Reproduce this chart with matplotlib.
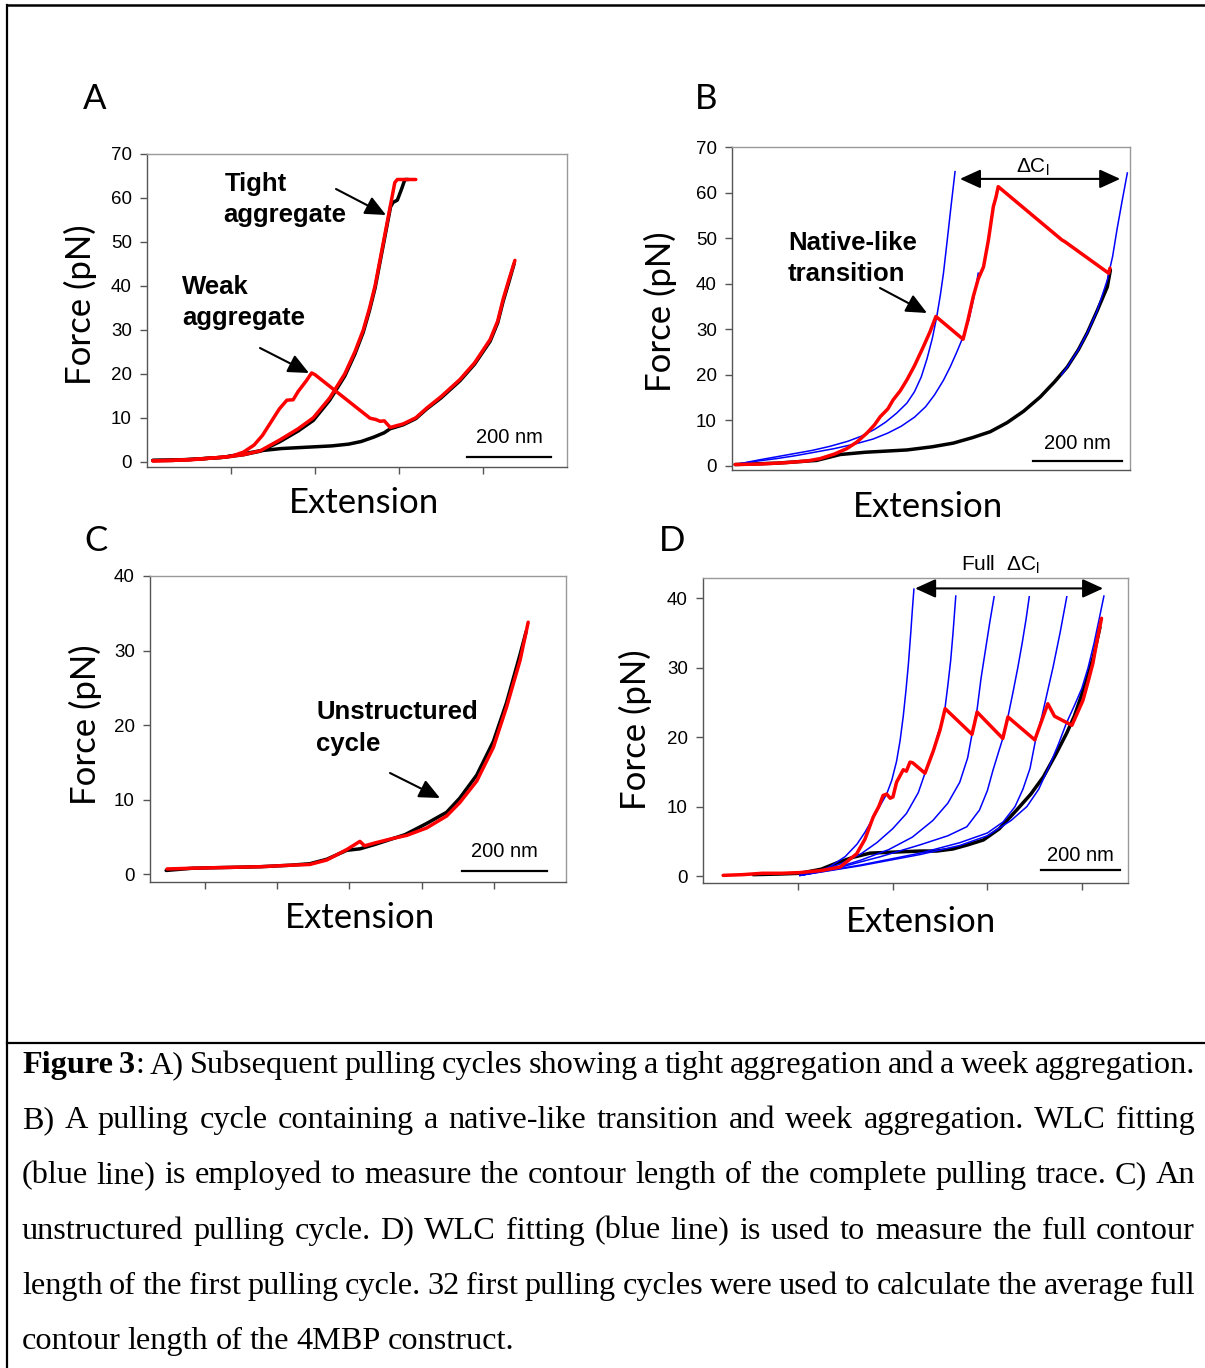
import matplotlib
matplotlib.use('Agg')
import matplotlib.pyplot as plt
from matplotlib.lines import Line2D
from matplotlib.patches import FancyArrowPatch

W, H = 1205, 1368  # output size in pixels

plt.rcParams['font.family'] = ['Liberation Sans', 'DejaVu Sans']
plt.rcParams['mathtext.fontset'] = 'custom'
plt.rcParams['mathtext.rm'] = 'Liberation Sans'
plt.rcParams['mathtext.it'] = 'Liberation Sans:italic'
plt.rcParams['mathtext.bf'] = 'Liberation Sans:bold'

RED, BLACK, BLUE = '#ff0000', '#000000', '#0000ff'

### Data  (extension in nm, force in pN)
## Panel A
a_tight_x = [14, 60, 120, 180, 230, 270, 317, 360, 396, 435, 471, 495, 515, 530, 543,
             553, 563, 573, 583, 590, 596, 640]
a_tight_red = [0.2, 0.3, 0.6, 1.0, 1.6, 2.5, 5.0, 7.5, 10, 14.5, 20, 25, 30, 35, 40,
               45, 50, 55, 60, 63.5, 64.2, 64.2]
a_tight_bk_x = [14, 60, 120, 180, 230, 270, 317, 360, 396, 435, 471, 495, 515, 530, 543,
                553, 563, 573, 580, 586, 596, 606, 614, 622]
a_tight_bk = [0.3, 0.3, 0.6, 1.0, 1.6, 2.4, 4.6, 7.0, 9.4, 14.0, 19.5, 24.5, 29.5, 34.5, 39.5,
              44.5, 49.5, 54.5, 58, 59, 59.5, 62, 64.2, 64.2]
a_weak_x = [14, 100, 200, 230, 255, 275, 295, 315, 333, 348, 360, 380, 392, 400, 531, 545,
            555, 565, 579, 610, 640, 666, 700, 745, 780, 817, 835, 848, 862, 876]
a_weak_red = [0.2, 0.4, 1.2, 2.2, 3.8, 6.0, 9.0, 12.0, 14.0, 14.1, 16.0, 18.5, 20.2, 19.8, 9.9, 9.6,
              9.2, 9.3, 7.8, 8.6, 10.0, 12.2, 14.8, 18.7, 22.5, 27.8, 32.0, 37.0, 41.5, 45.8]
a_weak_bk_x = [14, 100, 180, 230, 270, 320, 380, 440, 480, 510, 540, 565, 579, 610, 640,
               666, 700, 745, 780, 817, 835, 848, 862, 874]
a_weak_bk = [0.3, 0.5, 1.0, 1.8, 2.5, 3.0, 3.3, 3.6, 4.0, 4.6, 5.6, 6.6, 7.5, 8.4, 9.8,
             12.0, 14.5, 18.4, 22.2, 27.4, 31.6, 36.5, 41.0, 45.0]

## Panel B
b_red_x = [7, 60, 120, 170, 198, 230, 258, 280, 303, 320, 333, 350, 362, 378, 393, 410, 430,
           445, 458, 519, 530, 542, 553, 565, 576, 587, 593, 598, 741, 748, 846, 849]
b_red = [0.3, 0.4, 0.7, 1.1, 1.6, 2.6, 3.8, 5.2, 7.2, 9.0, 10.8, 12.5, 14.5, 16.5, 18.9, 22.0, 26.2,
         29.5, 32.8, 27.8, 32.0, 37.2, 41.0, 43.7, 49.6, 56.9, 59.0, 61.3, 49.6, 49.2, 42.3, 43.4]
b_black_x = [7, 100, 190, 243, 300, 393, 450, 497, 540, 580, 618, 655, 692, 725, 753, 778,
             798, 820, 843, 850]
b_black = [0.3, 0.6, 1.2, 2.5, 3.0, 3.5, 4.2, 5.0, 6.2, 7.5, 9.5, 12.0, 15.1, 18.5, 21.7, 25.5,
           29.2, 34.0, 39.3, 43.0]
b_fit1_x = [18, 60, 100, 140, 180, 220, 260, 290, 320, 345, 370, 393, 410, 425, 438, 450, 460,
            468, 475, 484, 492, 501]
b_fit1 = [0.5, 1.3, 2.0, 2.7, 3.4, 4.3, 5.4, 6.5, 8.0, 9.6, 11.6, 13.8, 16.3, 19.5, 23.5, 28.0, 32.8,
          37.5, 42.3, 50.0, 57.0, 64.6]
b_fit2_x = [18, 60, 100, 140, 180, 230, 280, 317, 350, 380, 410, 435, 455, 475, 490, 505, 519,
            532, 542, 548, 553]
b_fit2 = [0.5, 1.1, 1.6, 2.2, 2.9, 3.8, 4.9, 5.9, 7.2, 8.7, 10.7, 13.0, 15.6, 18.8, 21.7, 25.0, 28.3,
          32.0, 36.4, 39.3, 42.3]
b_fit3_x = [740, 753, 778, 798, 820, 843, 855, 865, 876, 888]
b_fit3 = [20.0, 21.7, 25.5, 29.2, 34.0, 40.8, 46.0, 52.0, 58.0, 64.3]

## Panel C
c_red_x = [40, 100, 180, 260, 330, 376, 416, 463, 494, 505, 530, 572, 604, 651, 698, 729, 769,
           808, 839, 871, 890]
c_red = [0.7, 0.8, 0.9, 1.0, 1.2, 1.3, 1.9, 3.3, 4.4, 3.8, 4.2, 4.8, 5.2, 6.2, 7.8, 9.6, 12.5,
         17.0, 22.4, 28.7, 33.8]
c_black_x = [38, 100, 180, 260, 330, 376, 416, 463, 494, 530, 600, 651, 698, 729, 769, 808,
             839, 871, 885]
c_black = [0.5, 0.8, 0.9, 1.0, 1.2, 1.4, 2.0, 3.2, 3.4, 4.0, 5.3, 6.8, 8.3, 10.2, 13.3, 17.8,
           23.0, 29.5, 32.5]

## Panel D
d_red_x = [51, 100, 150, 200, 246, 300, 347, 389, 410, 431, 445, 456, 465, 474, 481, 490, 507,
           515, 524, 531, 562, 583, 600, 613, 681, 694, 759, 772, 840, 873, 890, 934, 948, 962,
           975, 987, 998, 1009]
d_red = [0.1, 0.2, 0.4, 0.4, 0.5, 0.8, 1.3, 3.2, 5.3, 8.5, 10.0, 11.6, 11.8, 11.2, 11.4, 13.5,
         15.3, 15.1, 16.4, 16.3, 14.8, 18.0, 21.0, 24.1, 20.4, 23.6, 19.8, 22.9, 19.6, 24.8, 23.0,
         21.7, 23.5, 25.3, 28.0, 30.6, 34.0, 37.1]
d_black_x = [127, 200, 246, 300, 339, 380, 423, 465, 506, 550, 592, 633, 671, 710, 750, 794,
             830, 862, 893, 921, 940, 954, 970, 988, 1005]
d_black = [0.2, 0.3, 0.4, 1.0, 1.9, 2.7, 3.3, 3.4, 3.5, 3.6, 3.6, 3.9, 4.5, 5.2, 6.8, 9.5,
           11.8, 14.3, 17.5, 20.6, 23.0, 25.3, 28.0, 31.5, 35.8]
d_fit_x = [
    [246, 280, 320, 360, 390, 410, 430, 450, 465, 478, 490, 499, 507, 514, 520, 526, 530, 534],
    [246, 300, 350, 400, 440, 480, 515, 545, 562, 580, 595, 607, 613, 620, 627, 633, 640],
    [246, 320, 400, 470, 530, 582, 620, 650, 670, 681, 694, 704, 715, 726, 737],
    [246, 350, 450, 550, 620, 668, 700, 720, 734, 748, 759, 772, 785, 797, 808, 818, 826],
    [246, 400, 550, 650, 720, 760, 790, 810, 828, 842, 858, 868, 886, 904, 921],
    [246, 400, 550, 650, 720, 780, 820, 850, 878, 900, 920, 940, 959, 975, 990, 1003, 1015],
]
d_fit_y = [
    [0.1, 0.5, 1.3, 2.8, 4.6, 6.3, 8.3, 10.3, 11.8, 13.8, 16.5, 19.5, 23.0, 26.8, 30.5, 35.0, 38.3, 41.3],
    [0.1, 0.7, 1.8, 3.2, 4.8, 6.8, 9.0, 12.0, 14.8, 17.5, 20.5, 22.5, 24.3, 27.5, 31.0, 35.0, 40.3],
    [0.1, 0.9, 2.3, 3.8, 5.6, 8.0, 10.5, 13.5, 17.0, 20.4, 24.0, 28.5, 32.5, 36.5, 40.2],
    [0.1, 1.3, 2.8, 4.5, 5.8, 7.1, 9.5, 12.3, 15.2, 17.8, 19.8, 22.9, 26.5, 30.0, 33.5, 37.0, 40.2],
    [0.1, 1.6, 3.3, 4.8, 6.2, 7.8, 10.0, 12.5, 15.5, 19.6, 23.0, 25.5, 30.0, 35.0, 40.2],
    [0.1, 1.5, 3.1, 4.4, 5.8, 8.0, 10.0, 12.5, 16.0, 19.0, 22.0, 24.5, 27.0, 30.0, 33.5, 37.0, 40.3],
]

caption_lines = [
    [[('Figure', 'bold')], [('3', 'bold'), (':', 'normal')]] +
    [[(w, 'normal')] for w in 'A) Subsequent pulling cycles showing a tight aggregation and a week aggregation.'.split()],
    [[(w, 'normal')] for w in 'B) A pulling cycle containing a native-like transition and week aggregation. WLC fitting'.split()],
    [[(w, 'normal')] for w in '(blue line) is employed to measure the contour length of the complete pulling trace. C) An'.split()],
    [[(w, 'normal')] for w in 'unstructured pulling cycle. D) WLC fitting (blue line) is used to measure the full contour'.split()],
    [[(w, 'normal')] for w in 'length of the first pulling cycle. 32 first pulling cycles were used to calculate the average full'.split()],
    [[(w, 'normal')] for w in 'contour length of the 4MBP construct.'.split()],
]

fig = plt.figure(figsize=(W / 100, H / 100), dpi=100)


## Helpers
def ftext(x, y, s, **kw):
    '''Text placed in image pixel coords (origin top-left).'''
    return fig.text(x / W, 1 - y / H, s, **kw)


def farrow(x0, y0, x1, y1):
    fig.add_artist(FancyArrowPatch((x0 / W, 1 - y0 / H), (x1 / W, 1 - y1 / H),
                                   transform=fig.transFigure, arrowstyle='-|>,head_length=0.7,head_width=0.32',
                                   mutation_scale=18, color='black', lw=1.5, shrinkA=0, shrinkB=0))


def fline(x0, y0, x1, y1, lw=1.6):
    fig.add_artist(Line2D([x0 / W, x1 / W], [1 - y0 / H, 1 - y1 / H], transform=fig.transFigure,
                          color='black', lw=lw))


def make_axes(box, xlim, ylim, yticks, xticks):
    l, t, r, b = box
    ax = fig.add_axes([l / W, 1 - b / H, (r - l) / W, (b - t) / H])
    ax.set_xlim(xlim)
    ax.set_ylim(ylim)
    ax.set_yticks(yticks)
    ax.set_xticks(xticks)
    ax.set_xticklabels([])
    ax.tick_params(axis='y', direction='out', length=5, width=1, labelsize=13.5, pad=6, color='#555555')
    ax.tick_params(axis='x', direction='out', length=5, width=1, color='#555555')
    for side in ['left', 'bottom']:
        ax.spines[side].set_color('#555555')
    for side in ['top', 'right']:
        ax.spines[side].set_color('#999999')
    for s in ax.spines.values():
        s.set_linewidth(1)
    return ax


def scale_bar(ax, x0, y_bar, y_txt):
    ax.plot([x0, x0 + 200], [y_bar, y_bar], color='black', lw=1.6, clip_on=False)
    ax.text(x0 + 100, y_txt, '200 nm', ha='center', va='center', fontsize=14.5)


def trace(ax, x, y, color, lw=2.5):
    ax.plot(x, y, color=color, lw=lw, solid_joinstyle='round', solid_capstyle='round')


### Panel A
axA = make_axes((147, 154, 567, 467), (0, 1000), (-1.2, 70), range(0, 71, 10), [200, 400, 600, 800])
trace(axA, a_weak_bk_x, a_weak_bk, BLACK)
trace(axA, a_tight_bk_x, a_tight_bk, BLACK)
trace(axA, a_tight_x, a_tight_red, RED)
trace(axA, a_weak_x, a_weak_red, RED)
scale_bar(axA, 762, 1.1, 5.4)

### Panel B
axB = make_axes((732, 147, 1130, 470), (0, 894), (-0.9, 70), range(0, 71, 10), [])
trace(axB, b_black_x, b_black, BLACK)
for fx, fy in [(b_fit1_x, b_fit1), (b_fit2_x, b_fit2), (b_fit3_x, b_fit3)]:
    axB.plot(fx, fy, color=BLUE, lw=1.1)
trace(axB, b_red_x, b_red, RED)
scale_bar(axB, 676, 1.1, 5.0)
axB.add_patch(FancyArrowPatch((512, 63), (872, 63), arrowstyle='<|-|>,head_length=0.7,head_width=0.32',
                              mutation_scale=18, color='black', lw=1.5, shrinkA=0, shrinkB=0, clip_on=False))
ftext(1033, 167, r'$\mathrm{\Delta C}_\mathrm{l}$', ha='center', va='center', fontsize=15)

### Panel C
axC = make_axes((150, 576, 566, 882), (0, 979), (-1.05, 40), range(0, 41, 10), [129, 299, 469, 639, 809])
trace(axC, c_black_x, c_black, BLACK)
trace(axC, c_red_x, c_red, RED)
scale_bar(axC, 734, 0.45, 3.0)

### Panel D
axD = make_axes((703, 578, 1128, 883), (0, 1076), (-1.0, 42.9), range(0, 41, 10), [240, 481, 719, 960])
trace(axD, d_black_x, d_black, BLACK)
for fx, fy in zip(d_fit_x, d_fit_y):
    axD.plot(fx, fy, color=BLUE, lw=1.1)
trace(axD, d_red_x, d_red, RED)
scale_bar(axD, 856, 0.86, 3.0)
axD.add_patch(FancyArrowPatch((537, 41.4), (1013, 41.4), arrowstyle='<|-|>,head_length=0.7,head_width=0.32',
                              mutation_scale=18, color='black', lw=1.5, shrinkA=0, shrinkB=0, clip_on=False))
ftext(1000, 565, r'Full  $\mathrm{\Delta C}_\mathrm{l}$', ha='center', va='center', fontsize=15)

### Labels and annotations
lab = dict(family=['Lato', 'DejaVu Sans'], fontsize=25)
for x, y, s in [(95, 99, 'A'), (706, 99, 'B'), (96, 541, 'C'), (672, 541, 'D')]:
    ftext(x, y, s, ha='center', va='center', **lab)
for x, y in [(80, 305), (660, 312), (85, 725), (635, 730)]:
    ftext(x, y, 'Force (pN)', ha='center', va='center', rotation=90, **lab)
for x, y in [(364, 503), (928, 507), (360, 918), (921, 922)]:
    ftext(x, y, 'Extension', ha='center', va='center', **lab)

bold = dict(fontsize=18.5, weight='bold', ha='left', va='center')
ftext(225, 184, 'Tight', **bold)
ftext(223, 215, 'aggregate', **bold)
farrow(336, 189, 386, 215)
ftext(182, 287, 'Weak', **bold)
ftext(182, 318, 'aggregate', **bold)
farrow(260, 348, 309, 373)
ftext(788, 243, 'Native-like', **bold)
ftext(788, 274, 'transition', **bold)
farrow(880, 288, 927, 313)
ftext(316, 712, 'Unstructured', **bold)
ftext(316, 744, 'cycle', **bold)
farrow(390, 773, 440, 798)

### Frame round the figure
fline(7, 5, W, 5, lw=1.8)
fline(7.5, 5, 7.5, H, lw=1.6)
fline(7, 1042.5, W, 1042.5, lw=1.6)

### Caption, justified between x=22 and x=1195
renderer = fig.canvas.get_renderer()
CAP = dict(family=['Liberation Serif', 'DejaVu Serif'], fontsize=23.2, va='baseline', ha='left')
left, right = 22, 1195
baselines = [1073 + 55.2 * i for i in range(len(caption_lines))]
for n, (words, yb) in enumerate(zip(caption_lines, baselines)):
    placed = []
    for word in words:
        segs = []
        width = 0
        for s, wt in word:
            t = ftext(0, yb, s, weight=wt, **CAP)
            w = t.get_window_extent(renderer).width
            segs.append((t, w))
            width += w
        placed.append((segs, width))
    total = sum(p[1] for p in placed)
    last = n == len(caption_lines) - 1
    gap = 7.0 if last else (right - left - total) / (len(placed) - 1)
    x = left
    for segs, width in placed:
        xs = x
        for t, w in segs:
            t.set_position((xs / W, 1 - yb / H))
            xs += w
        x += width + gap

fig.savefig('out.png', dpi=100)
